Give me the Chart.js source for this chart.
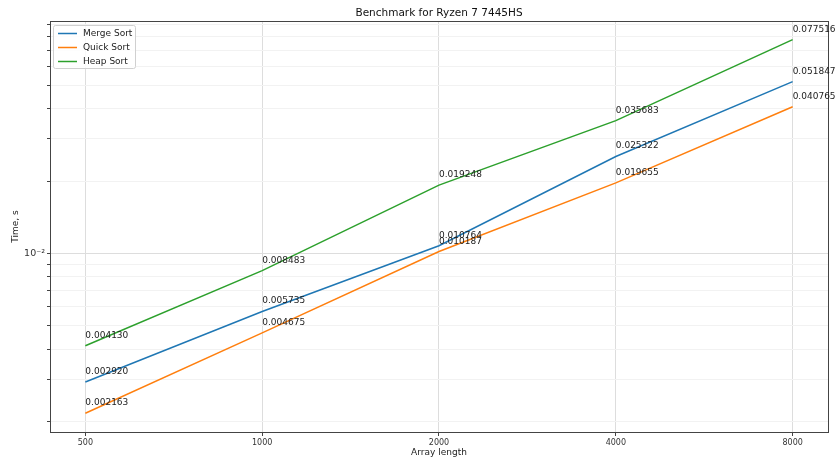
<!DOCTYPE html>
<html>
<head>
<meta charset="utf-8">
<script src="https://cdn.jsdelivr.net/npm/chart.js@4/dist/chart.umd.min.js"></script>
<style>
  html, body { margin: 0; padding: 0; background: #fff; }
  #wrap { width: 836px; height: 461px; }
</style>
</head>
<body>
<div id="wrap"><canvas id="bench-chart" width="836" height="461"></canvas></div>
<script>
// Benchmark data (seconds)
const arrayLengths = [500, 1000, 2000, 4000, 8000];
const mergeSort = [0.002920, 0.005735, 0.010764, 0.025322, 0.051847];
const quickSort = [0.002163, 0.004675, 0.010187, 0.019655, 0.040765];
const heapSort = [0.004130, 0.008483, 0.019248, 0.035683, 0.077516];
const yTickValues = [0.002, 0.003, 0.004, 0.005, 0.006, 0.007, 0.008, 0.009,
                     0.01, 0.02, 0.03, 0.04, 0.05, 0.06, 0.07, 0.08, 0.09];

const FONT = "'DejaVu Sans', sans-serif";
const toPoints = (vals) => arrayLengths.map((x, i) => ({ x: x, y: vals[i] }));

// frame, value labels, title and legend drawn on top
const decorations = {
    id: 'decorations',
    afterDraw(chart) {
        const { ctx, chartArea: a } = chart;
        ctx.save();
        ctx.strokeStyle = '#444';
        ctx.lineWidth = 1;
        ctx.strokeRect(a.left + 0.5, a.top + 0.5, a.right - a.left, a.bottom - a.top);

        // value labels
        ctx.font = '9px ' + FONT;
        ctx.fillStyle = '#222';
        ctx.textAlign = 'left';
        ctx.textBaseline = 'alphabetic';
        chart.data.datasets.forEach((ds, di) => {
            chart.getDatasetMeta(di).data.forEach((pt, i) => {
                ctx.fillText(ds.data[i].y.toFixed(6), pt.x, pt.y - 8);
            });
        });

        // title
        ctx.font = '10.5px ' + FONT;
        ctx.textAlign = 'center';
        ctx.textBaseline = 'middle';
        ctx.fillStyle = '#111';
        ctx.fillText('Benchmark for Ryzen 7 7445HS', (a.left + a.right) / 2, 13);

        // legend
        const lx = a.left + 3, ly = a.top + 4, lw = 82, lh = 43;
        ctx.fillStyle = 'rgba(255,255,255,0.8)';
        ctx.strokeStyle = '#d0d0d0';
        ctx.beginPath();
        ctx.roundRect(lx + 0.5, ly + 0.5, lw, lh, 2);
        ctx.fill();
        ctx.stroke();
        ctx.font = '9px ' + FONT;
        ctx.textAlign = 'left';
        chart.data.datasets.forEach((ds, di) => {
            const y = ly + 8.5 + di * 14;
            ctx.strokeStyle = ds.borderColor;
            ctx.lineWidth = 1.5;
            ctx.beginPath();
            ctx.moveTo(lx + 5, y);
            ctx.lineTo(lx + 24, y);
            ctx.stroke();
            ctx.fillStyle = '#222';
            ctx.fillText(ds.label, lx + 30, y + 0.5);
        });
        ctx.restore();
    }
};

const ctx = document.getElementById('bench-chart').getContext('2d');
new Chart(ctx, {
    type: 'line',
    data: {
        datasets: [
            { label: 'Merge Sort', data: toPoints(mergeSort), borderColor: '#1f77b4' },
            { label: 'Quick Sort', data: toPoints(quickSort), borderColor: '#ff7f0e' },
            { label: 'Heap Sort', data: toPoints(heapSort), borderColor: '#2ca02c' }
        ]
    },
    options: {
        responsive: false,
        animation: false,
        devicePixelRatio: 1,
        layout: { padding: { top: 21, right: 8, left: 0, bottom: 0 } },
        elements: {
            line: { borderWidth: 1.5, tension: 0 },
            point: { radius: 0 }
        },
        plugins: {
            legend: { display: false },
            title: { display: false },
            tooltip: { enabled: false }
        },
        scales: {
            x: {
                type: 'logarithmic',
                min: 435.28,
                max: 9189.6,
                afterBuildTicks: (scale) => { scale.ticks = arrayLengths.map(v => ({ value: v })); },
                afterFit: (scale) => { scale.height = 29; },
                ticks: {
                    autoSkip: false,
                    maxRotation: 0,
                    padding: 2,
                    color: '#333',
                    font: { family: FONT, size: 8 },
                    callback: (v) => String(v)
                },
                grid: { color: '#dddddd', tickLength: 4, tickColor: '#444' },
                border: { display: false },
                title: {
                    display: true,
                    text: 'Array length',
                    color: '#222',
                    font: { family: FONT, size: 9 },
                    padding: { top: 0, bottom: 3 }
                }
            },
            y: {
                type: 'logarithmic',
                min: 0.001808,
                max: 0.09270,
                afterBuildTicks: (scale) => { scale.ticks = yTickValues.map(v => ({ value: v })); },
                afterFit: (scale) => { scale.width = 50; },
                ticks: {
                    autoSkip: false,
                    padding: 2,
                    color: '#333',
                    font: { family: FONT, size: 9.5 },
                    callback: (v) => (Math.abs(v - 0.01) < 1e-9 ? '10\u207B\u00B2' : '')
                },
                grid: {
                    color: (c) => (c.tick && Math.abs(c.tick.value - 0.01) < 1e-9 ? '#dddddd' : '#f2f2f2'),
                    tickLength: 3,
                    tickColor: '#444'
                },
                border: { display: false },
                title: {
                    display: true,
                    text: 'Time, s',
                    color: '#222',
                    font: { family: FONT, size: 9 },
                    padding: { top: 10, bottom: 0 }
                }
            }
        }
    },
    plugins: [decorations]
});
</script>
</body>
</html>
